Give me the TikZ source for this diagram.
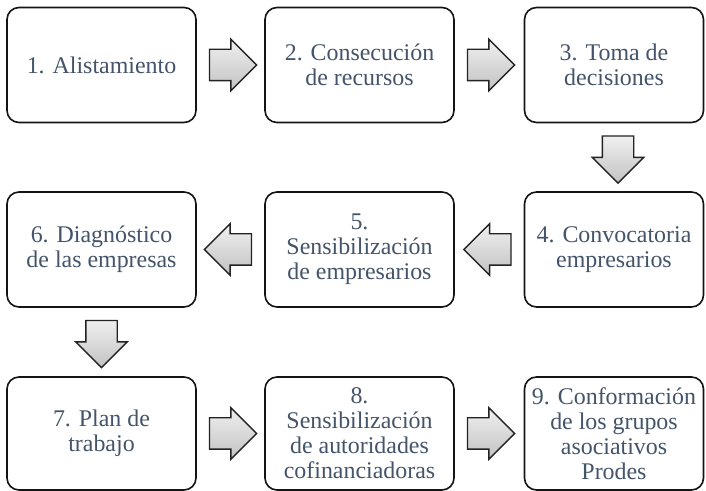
\documentclass[tikz,border=0pt]{standalone}
\usepackage{fontspec}
\setmainfont{Liberation Serif}
\newfontfamily\stepfont{Liberation Serif}
\usepackage{tikz}
\usetikzlibrary{
  calc,
  shapes.arrows
}
\definecolor{stepText}{RGB}{68,84,106}
\definecolor{stepStroke}{RGB}{20,20,20}
\definecolor{arrowStroke}{RGB}{35,35,35}
\tikzset{
  stepbox/.style={
    draw=stepStroke,
    fill=white,
    rounded corners=12bp,
    line width=1.6bp,
    minimum width=189bp,
    minimum height=115bp,
    align=center,
    text=stepText,
    font=\stepfont\fontsize{24}{25}\selectfont
  },
  blockarrow/.style={
    single arrow,
    draw=arrowStroke,
    line width=1.4bp,
    top color=gray!12,
    bottom color=gray!48,
    inner sep=15bp,
    minimum height=44bp,
    single arrow head extend=10bp,
    single arrow head indent=0pt,
    anchor=tail
  }
}

\begin{document}
\begin{tikzpicture}[x=1bp,y=1bp]
  \useasboundingbox (0,0) rectangle (706,491);

  % first row
  \node[stepbox] (s1) at (101.5,426) {1. Alistamiento};
  \node[stepbox] (s2) at (359.5,426) {2. Consecución\\de recursos};
  \node[stepbox, minimum width=179bp] (s3) at (614,426) {3. Toma de\\decisiones};

  % second row, right to left
  \node[stepbox, minimum width=179bp] (s4) at (614,241.5) {4. Convocatoria\\empresarios};
  \node[stepbox] (s5) at (359.5,241.5) {5.\\Sensibilización\\de empresarios};
  \node[stepbox] (s6) at (101.5,241.5) {6. Diagnóstico\\de las empresas};

  % third row
  \node[stepbox, minimum height=113bp] (s7) at (101.5,57.5) {7. Plan de\\trabajo};
  \node[stepbox, minimum height=113bp] (s8) at (359.5,57.5) {8.\\Sensibilización\\de autoridades\\cofinanciadoras};
  \node[stepbox, minimum width=179bp, minimum height=113bp] (s9) at (614,57.5) {9. Conformación\\de los grupos\\asociativos\\Prodes};

  % block arrows, tail 12bp off the box they leave
  \node[blockarrow] (a12) at ($(s1.east)+(12,0)$) {};
  \node[blockarrow] (a23) at ($(s2.east)+(12,0)$) {};
  \node[blockarrow, rotate=-90] (a34) at ($(s3.south)+(4,-12)$) {};
  \node[blockarrow, rotate=180] (a45) at ($(s4.west)+(-12,0)$) {};
  \node[blockarrow, rotate=180] (a56) at ($(s5.west)+(-12,0)$) {};
  \node[blockarrow, rotate=-90] (a67) at ($(s6.south)+(0,-12)$) {};
  \node[blockarrow] (a78) at ($(s7.east)+(12,0)$) {};
  \node[blockarrow] (a89) at ($(s8.east)+(12,0)$) {};
\end{tikzpicture}
\end{document}
